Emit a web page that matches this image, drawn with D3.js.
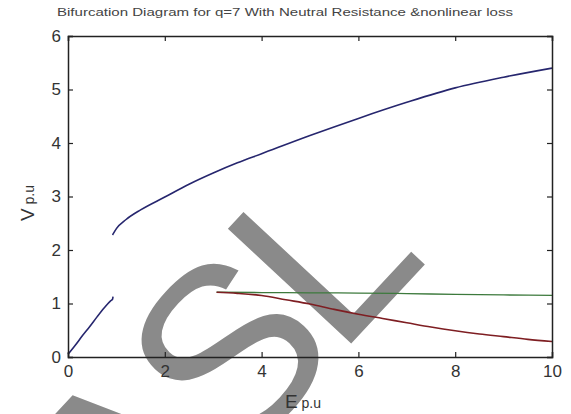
<!DOCTYPE html>
<html>
<head>
<meta charset="utf-8">
<script src="https://cdn.jsdelivr.net/npm/d3@7"></script>
<style>
  html, body { margin: 0; padding: 0; background: #fff; }
  svg { display: block; }
</style>
</head>
<body>
<svg id="chart" width="571" height="414"></svg>
<script>
// Bifurcation branches: source voltage E (p.u) against load voltage V (p.u)
const lowerBranchE = [0, 0.15, 0.3, 0.45, 0.6, 0.75, 0.88, 0.92, 0.93];
const lowerBranchV = [0.05, 0.22, 0.40, 0.57, 0.75, 0.92, 1.05, 1.08, 1.13];

const upperBranchE = [0.92, 1.0, 1.2, 1.5, 2, 2.5, 3, 3.5, 4, 5, 6, 7, 8, 9, 10];
const upperBranchV = [2.28, 2.40, 2.57, 2.75, 2.99, 3.23, 3.44, 3.63, 3.80, 4.14, 4.46, 4.76, 5.03, 5.23, 5.40];

const greenBranchE = [3.07, 4, 5, 6, 7, 8, 9, 10];
const greenBranchV = [1.21, 1.205, 1.20, 1.195, 1.185, 1.17, 1.16, 1.15];

const redBranchE = [3.07, 3.5, 4, 4.5, 5, 5.5, 6, 6.5, 7, 7.5, 8, 8.5, 9, 9.5, 10];
const redBranchV = [1.21, 1.19, 1.15, 1.07, 0.99, 0.89, 0.80, 0.72, 0.64, 0.56, 0.49, 0.43, 0.38, 0.33, 0.29];

const xTicks = [0, 2, 4, 6, 8, 10];
const yTicks = [0, 1, 2, 3, 4, 5, 6];

const titleText = "Bifurcation Diagram for q=7 With  Neutral Resistance &nonlinear loss";

const svg = d3.select("#chart");
const plotLeft = 68, plotRight = 552, plotTop = 36, plotBottom = 357;

const x = d3.scaleLinear().domain([0, 10]).range([plotLeft, plotRight]);
const y = d3.scaleLinear().domain([0, 6]).range([plotBottom, plotTop]);

const font = "'Liberation Sans', Arial, sans-serif";

// watermark lettering behind the curves
svg.append("text")
  .attr("transform", "translate(350,345) rotate(-47)")
  .attr("text-anchor", "end")
  .attr("x", 106)
  .attr("font-family", font)
  .attr("font-size", 245)
  .attr("letter-spacing", -12)
  .attr("fill", "#8a8a8a")
  .text("ASL");

// title
svg.append("text")
  .attr("x", 57).attr("y", 16)
  .attr("font-family", font)
  .attr("font-size", 11.5)
  .attr("fill", "#444")
  .attr("textLength", 456)
  .attr("lengthAdjust", "spacingAndGlyphs")
  .text(titleText);

const pairs = (es, vs) => es.map((e, i) => [e, vs[i]]);
const line = d3.line().x(d => x(d[0])).y(d => y(d[1])).curve(d3.curveMonotoneX);

const series = [
  { data: pairs(lowerBranchE, lowerBranchV), color: "#26266e", w: 1.6 },
  { data: pairs(upperBranchE, upperBranchV), color: "#26266e", w: 1.6 },
  { data: pairs(greenBranchE, greenBranchV), color: "#3d7a3d", w: 1.3 },
  { data: pairs(redBranchE, redBranchV), color: "#7e1e22", w: 1.6 }
];

svg.append("g").selectAll("path")
  .data(series)
  .join("path")
  .attr("d", d => line(d.data))
  .attr("fill", "none")
  .attr("stroke", d => d.color)
  .attr("stroke-width", d => d.w)
  .attr("stroke-linejoin", "round");

// axes with inward ticks, mirrored on the top and right edges
const tickLen = 5;
const axisColor = "#222";

const gBottom = svg.append("g").attr("transform", `translate(0,${plotBottom})`)
  .call(d3.axisBottom(x).tickValues(xTicks).tickSize(-tickLen).tickPadding(8).tickFormat(d3.format("d")));
const gTop = svg.append("g").attr("transform", `translate(0,${plotTop})`)
  .call(d3.axisTop(x).tickValues(xTicks).tickSize(-tickLen).tickFormat(""));
const gLeft = svg.append("g").attr("transform", `translate(${plotLeft},0)`)
  .call(d3.axisLeft(y).tickValues(yTicks).tickSize(-tickLen).tickPadding(8).tickFormat(d3.format("d")));
const gRight = svg.append("g").attr("transform", `translate(${plotRight},0)`)
  .call(d3.axisRight(y).tickValues(yTicks).tickSize(-tickLen).tickFormat(""));

[gBottom, gTop, gLeft, gRight].forEach(g => {
  g.select(".domain").attr("stroke", axisColor).attr("stroke-width", 1.5);
  g.selectAll(".tick line").attr("stroke", axisColor).attr("stroke-width", 1.2);
  g.selectAll(".tick text")
    .attr("font-family", font)
    .attr("font-size", 17)
    .attr("fill", "#333");
});
gLeft.selectAll(".tick text").attr("x", -7);

// axis labels
const xl = svg.append("text")
  .attr("x", 303).attr("y", 408)
  .attr("text-anchor", "middle")
  .attr("font-family", font)
  .attr("fill", "#333");
xl.append("tspan").attr("font-size", 19).text("E");
xl.append("tspan").attr("font-size", 14).text(" p.u");

const yl = svg.append("text")
  .attr("transform", "translate(34,203) rotate(-90)")
  .attr("text-anchor", "middle")
  .attr("font-family", font)
  .attr("fill", "#333");
yl.append("tspan").attr("font-size", 19).text("V");
yl.append("tspan").attr("font-size", 14).text(" p.u");
</script>
</body>
</html>
